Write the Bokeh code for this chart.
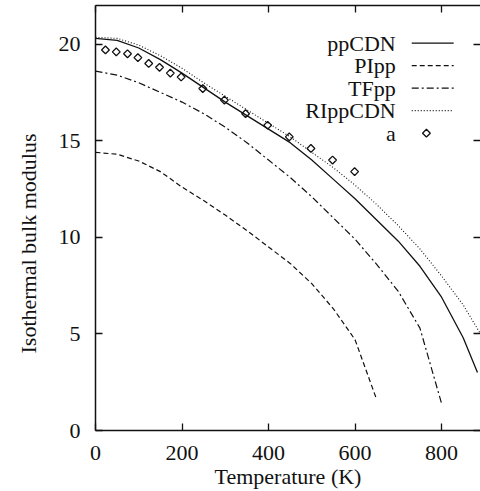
import math
from bokeh.plotting import figure
from bokeh.models import Range1d, LinearAxis, FixedTicker, Label, Title
from bokeh.embed import file_html
from bokeh.resources import INLINE

T_pp = [0, 50, 100, 150, 200, 250, 300, 350, 400, 450, 500, 550, 600, 650, 700, 750, 800, 850, 883]
ppCDN = [20.3, 20.2, 19.8, 19.2, 18.5, 17.75, 17.0, 16.3, 15.6, 14.9, 14.0, 13.0, 12.0, 10.9, 9.8, 8.5, 6.9, 4.8, 3.0]

T_pi = [0, 50, 100, 150, 200, 250, 300, 350, 400, 450, 500, 550, 600, 650]
PIpp = [14.4, 14.3, 13.95, 13.4, 12.6, 11.9, 11.15, 10.35, 9.5, 8.65, 7.6, 6.3, 4.7, 1.6]

T_tf = [0, 50, 100, 150, 200, 250, 300, 350, 400, 450, 500, 550, 600, 650, 700, 750, 800]
TFpp = [18.6, 18.4, 18.0, 17.5, 17.0, 16.4, 15.7, 14.9, 14.0, 13.1, 12.1, 11.0, 9.9, 8.6, 7.2, 5.3, 1.4]

T_ri = [0, 50, 100, 150, 200, 250, 300, 350, 400, 450, 500, 550, 600, 650, 700, 750, 800, 850, 890]
RIppCDN = [20.35, 20.3, 19.95, 19.4, 18.75, 18.0, 17.3, 16.6, 15.9, 15.2, 14.4, 13.6, 12.7, 11.7, 10.6, 9.4, 8.0, 6.5, 5.0]

T_a = [23, 48, 74, 98, 123, 148, 173, 198, 248, 298, 347, 398, 448, 498, 548, 599]
a_vals = [19.7, 19.6, 19.5, 19.3, 19.0, 18.8, 18.5, 18.3, 17.7, 17.1, 16.4, 15.8, 15.2, 14.6, 14.0, 13.4]

x_ticks = [0, 200, 400, 600, 800]
y_ticks = [0, 5, 10, 15, 20]

series_names = ["ppCDN", "PIpp", "TFpp", "RIppCDN", "a"]

FONT = "Liberation Serif"
FS = "22px"
COL = "#111111"

p = figure(width=480, height=491, x_range=Range1d(0, 890), y_range=Range1d(0, 22),
           output_backend="svg", toolbar_location=None,
           min_border_left=95, min_border_right=0, min_border_top=5, min_border_bottom=61)
p.outline_line_color = None
p.xgrid.visible = False
p.ygrid.visible = False
p.background_fill_color = "white"
p.border_fill_color = "white"

xa = p.xaxis[0]
ya = p.yaxis[0]
for ax, tk in ((xa, x_ticks), (ya, y_ticks)):
    ax.ticker = FixedTicker(ticks=tk)
    ax.major_tick_in = 7
    ax.major_tick_out = 0
    ax.minor_tick_line_color = None
    ax.major_tick_line_color = COL
    ax.major_tick_line_width = 1.3
    ax.axis_line_color = COL
    ax.axis_line_width = 1.5
    ax.major_label_text_font = FONT
    ax.major_label_text_font_size = FS
    ax.major_label_text_color = COL
xa.major_label_standoff = 15
ya.major_label_standoff = 15

xa.axis_label = "Temperature (K)"
xa.axis_label_text_font = FONT
xa.axis_label_text_font_size = FS
xa.axis_label_text_font_style = "normal"
xa.axis_label_text_color = COL
xa.axis_label_standoff = 1

top = LinearAxis(ticker=FixedTicker(ticks=x_ticks))
right = LinearAxis(ticker=FixedTicker(ticks=y_ticks))
for ax, line, tk in ((top, True, x_ticks), (right, False, y_ticks)):
    ax.major_tick_in = 7
    ax.major_tick_out = 0
    ax.minor_tick_line_color = None
    ax.major_tick_line_color = COL
    ax.major_tick_line_width = 1.3
    ax.axis_line_color = COL if line else None
    ax.axis_line_width = 1.5
    ax.major_label_overrides = {t: "" for t in tk}
    ax.major_label_text_font_size = "1px"
    ax.major_label_standoff = 0
p.add_layout(top, "above")
p.add_layout(right, "right")

# y label as a left-side title, placed lower than centre as in the original
ytitle = Title(text="Isothermal bulk modulus", align="left", offset=77,
               vertical_align="top",
               text_font=FONT, text_font_size=FS, text_font_style="normal",
               text_color=COL, standoff=25)
p.add_layout(ytitle, "left")

# curves
p.line(T_pp, ppCDN, line_color=COL, line_width=1.3)
p.line(T_pi, PIpp, line_color=COL, line_width=1.2, line_dash="5 3")
p.line(T_tf, TFpp, line_color=COL, line_width=1.2, line_dash="7 3 2 3")
p.line(T_ri, RIppCDN, line_color=COL, line_width=1.1, line_dash="1 2")
p.scatter(T_a, a_vals, marker="square", angle=math.pi / 4, size=5.5,
          fill_color=None, line_color=COL, line_width=1.3)

# legend (manual, text on left, sample on right)
leg_y = [20.05, 18.89, 17.72, 16.56, 15.39]
text_x = 694
seg_x0, seg_x1 = 731, 828
dashes = ["solid", "5 3", "7 3 2 3", "1 2"]
for i, name in enumerate(series_names):
    p.add_layout(Label(x=text_x, y=leg_y[i], text=name, text_font=FONT, text_font_size=FS,
                       text_color=COL, text_align="right", text_baseline="middle"))
for i in range(4):
    p.line([seg_x0, seg_x1], [leg_y[i], leg_y[i]], line_color=COL, line_width=1.2, line_dash=dashes[i])
p.scatter([765], [leg_y[4]], marker="square", angle=math.pi / 4, size=5.5,
          fill_color=None, line_color=COL, line_width=1.3)

open("out.html", "w").write(file_html(p, INLINE))
